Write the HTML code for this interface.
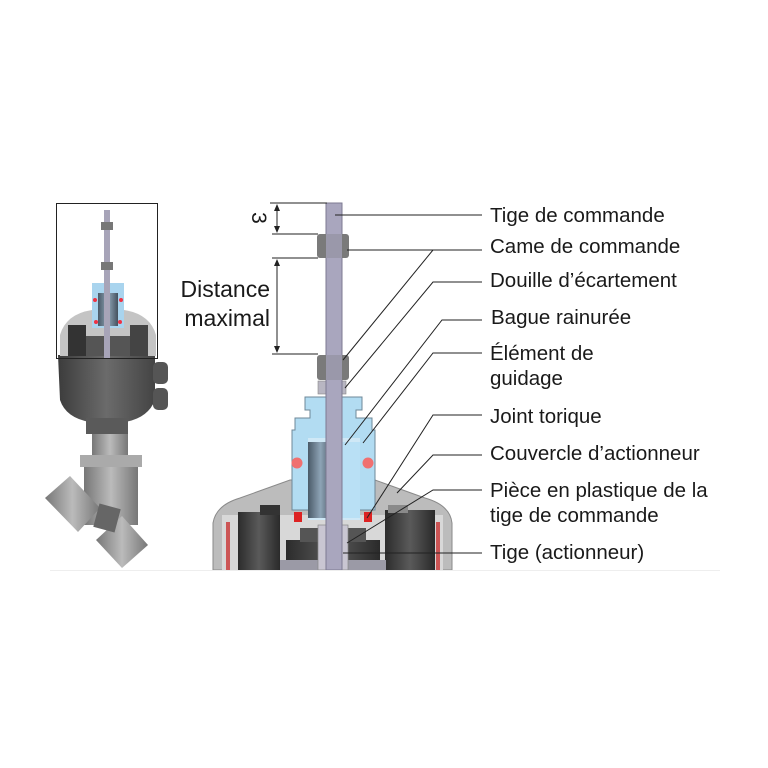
<!DOCTYPE html>
<html><head><meta charset="utf-8"><style>
html,body{margin:0;padding:0;background:#fff}
svg{display:block}
text{font-family:"Liberation Sans",sans-serif;fill:#1a1a1a}
</style></head><body>
<svg width="768" height="768" viewBox="0 0 768 768" xmlns="http://www.w3.org/2000/svg">
<defs>
<linearGradient id="dk" x1="0" x2="1"><stop offset="0" stop-color="#2c2c2c"/><stop offset=".5" stop-color="#5a5a5a"/><stop offset="1" stop-color="#2a2a2a"/></linearGradient>
<linearGradient id="body" x1="0" x2="1"><stop offset="0" stop-color="#3c3c3c"/><stop offset=".5" stop-color="#6b6b6b"/><stop offset="1" stop-color="#444"/></linearGradient>
<linearGradient id="met" x1="0" x2="1"><stop offset="0" stop-color="#777"/><stop offset=".5" stop-color="#bbb"/><stop offset="1" stop-color="#777"/></linearGradient>
<linearGradient id="cyl" x1="0" x2="1"><stop offset="0" stop-color="#4a5a68"/><stop offset=".5" stop-color="#8ea4b6"/><stop offset="1" stop-color="#44525e"/></linearGradient>
</defs>
<rect width="768" height="768" fill="#fff"/>

<!-- ===== Small overview valve ===== -->
<g>
<rect x="92" y="428" width="36" height="30" fill="url(#met)"/>
<rect x="80" y="455" width="62" height="12" fill="#aaa"/>
<rect x="84" y="467" width="54" height="58" fill="url(#met)"/>
<polygon points="45,498 70,476 100,508 78,532" fill="url(#met)"/>
<polygon points="96,540 122,516 148,545 122,568" fill="url(#met)"/>
<rect x="96" y="506" width="22" height="24" fill="#666" transform="rotate(15 107 518)"/>
<path d="M58,355 L155,355 L155,400 Q148,418 125,422 L90,422 Q66,418 60,400 Z" fill="url(#body)"/>
<rect x="153" y="362" width="15" height="22" rx="5" fill="#555"/>
<rect x="153" y="388" width="15" height="22" rx="5" fill="#555"/>
<rect x="86" y="418" width="42" height="16" fill="#5a5a5a"/>
<path d="M60,356 L60,335 Q66,314 92,310 L124,310 Q150,314 156,335 L156,356 Z" fill="#c4c4c4"/>
<rect x="68" y="325" width="18" height="31" fill="#333"/>
<rect x="130" y="325" width="18" height="31" fill="#444"/>
<rect x="92" y="283" width="32" height="45" fill="#a9d4ee"/>
<rect x="98" y="293" width="20" height="33" fill="url(#cyl)"/>
<rect x="86" y="336" width="44" height="20" fill="#555"/>
<rect x="104" y="210" width="6" height="148" fill="#a7a4b8"/>
<rect x="101" y="222" width="12" height="8" fill="#777"/>
<rect x="101" y="262" width="12" height="8" fill="#777"/>
<circle cx="95" cy="300" r="2" fill="#e34"/><circle cx="121" cy="300" r="2" fill="#e34"/>
<circle cx="96" cy="322" r="2" fill="#e34"/><circle cx="120" cy="322" r="2" fill="#e34"/>
<rect x="56.5" y="203.5" width="101" height="155" fill="none" stroke="#222" stroke-width="1"/>
</g>

<!-- ===== Main cutaway ===== -->
<path d="M213,570 L213,523 Q216,505 240,498 L290,480 L375,480 L425,498 Q450,505 452,523 L452,570 Z" fill="#bcbcbc" stroke="#8a8a8a" stroke-width="1"/>
<rect x="222" y="515" width="221" height="55" fill="#d8d8d8"/>
<rect x="238" y="512" width="42" height="58" fill="url(#dk)"/>
<rect x="260" y="505" width="20" height="10" fill="#333"/>
<rect x="385" y="510" width="50" height="60" fill="url(#dk)"/>
<rect x="388" y="505" width="20" height="8" fill="#8a8a8a"/>
<rect x="226" y="522" width="4" height="48" fill="#c55"/>
<rect x="436" y="522" width="4" height="48" fill="#c55"/>
<rect x="286" y="540" width="94" height="30" fill="url(#dk)"/>
<rect x="300" y="528" width="66" height="14" fill="#555"/>
<rect x="280" y="560" width="106" height="10" fill="#9b9aa6"/>
<rect x="318" y="525" width="30" height="45" fill="#c9c6d2" stroke="#888" stroke-width=".7"/>
<path d="M305,397 L362,397 L362,410 L356,410 L356,418 L372,418 L372,430 L375,430 L375,510 L292,510 L292,430 L295,430 L295,418 L310,418 L310,410 L305,410 Z" fill="#b2dcf2" stroke="#6f8898" stroke-width="1"/>
<rect x="308" y="438" width="52" height="82" fill="#cfe8f6"/>
<rect x="308" y="442" width="25" height="76" fill="url(#cyl)"/>
<rect x="333" y="442" width="27" height="76" fill="#b9e0f5"/>
<circle cx="297" cy="463" r="5.5" fill="#f07070"/>
<circle cx="368" cy="463" r="5.5" fill="#f07070"/>
<rect x="294" y="512" width="8" height="10" fill="#d22"/>
<rect x="364" y="512" width="8" height="10" fill="#d22"/>
<rect x="318" y="381" width="28" height="13" fill="#b8b6c2" stroke="#888" stroke-width=".6"/>
<rect x="326" y="203" width="16" height="367" fill="#a9a6be" stroke="#7d7a92" stroke-width="1"/>
<rect x="317" y="234" width="32" height="24" rx="3" fill="#7a7a7a"/>
<rect x="326" y="234" width="16" height="24" fill="#9a98aa"/>
<rect x="317" y="355" width="32" height="25" rx="3" fill="#7a7a7a"/>
<rect x="326" y="355" width="16" height="25" fill="#9a98aa"/>

<g stroke="#222" stroke-width="1" fill="none">
<line x1="270" y1="203" x2="327" y2="203"/>
<line x1="272" y1="234" x2="318" y2="234"/>
<line x1="272" y1="258" x2="318" y2="258"/>
<line x1="272" y1="354" x2="318" y2="354"/>
<line x1="277" y1="207" x2="277" y2="230"/>
<line x1="277" y1="262" x2="277" y2="350"/>
</g>
<g fill="#222">
<polygon points="277,204 274,211 280,211"/><polygon points="277,233 274,226 280,226"/>
<polygon points="277,259 274,266 280,266"/><polygon points="277,353 274,346 280,346"/>
</g>
<text x="0" y="0" font-size="21" transform="translate(252,218) rotate(90)" text-anchor="middle">3</text>
<text x="270" y="297" font-size="23" text-anchor="end">Distance</text>
<text x="270" y="326" font-size="23" text-anchor="end">maximal</text>

<g stroke="#222" stroke-width="1" fill="none">
<line x1="335" y1="215" x2="482" y2="215"/>
<line x1="347" y1="250" x2="482" y2="250"/>
<polyline points="343,360 433,250"/>
<polyline points="345,388 433,282 482,282"/>
<polyline points="345,445 442,320 482,320"/>
<polyline points="363,443 433,353 482,353"/>
<polyline points="367,518 433,415 482,415"/>
<polyline points="397,493 433,455 482,455"/>
<polyline points="347,543 433,490 482,490"/>
<line x1="343" y1="553" x2="482" y2="553"/>
</g>

<g font-size="20.5">
<text x="490" y="222">Tige de commande</text>
<text x="490" y="253">Came de commande</text>
<text x="490" y="287">Douille d’écartement</text>
<text x="491" y="324">Bague rainurée</text>
<text x="490" y="360">Élément de</text>
<text x="490" y="385">guidage</text>
<text x="490" y="423">Joint torique</text>
<text x="490" y="460">Couvercle d’actionneur</text>
<text x="490" y="497">Pièce en plastique de la</text>
<text x="490" y="522">tige de commande</text>
<text x="490" y="559">Tige (actionneur)</text>
</g>
<line x1="50" y1="570.5" x2="720" y2="570.5" stroke="#eee" stroke-width="1"/>
</svg>
</body></html>
